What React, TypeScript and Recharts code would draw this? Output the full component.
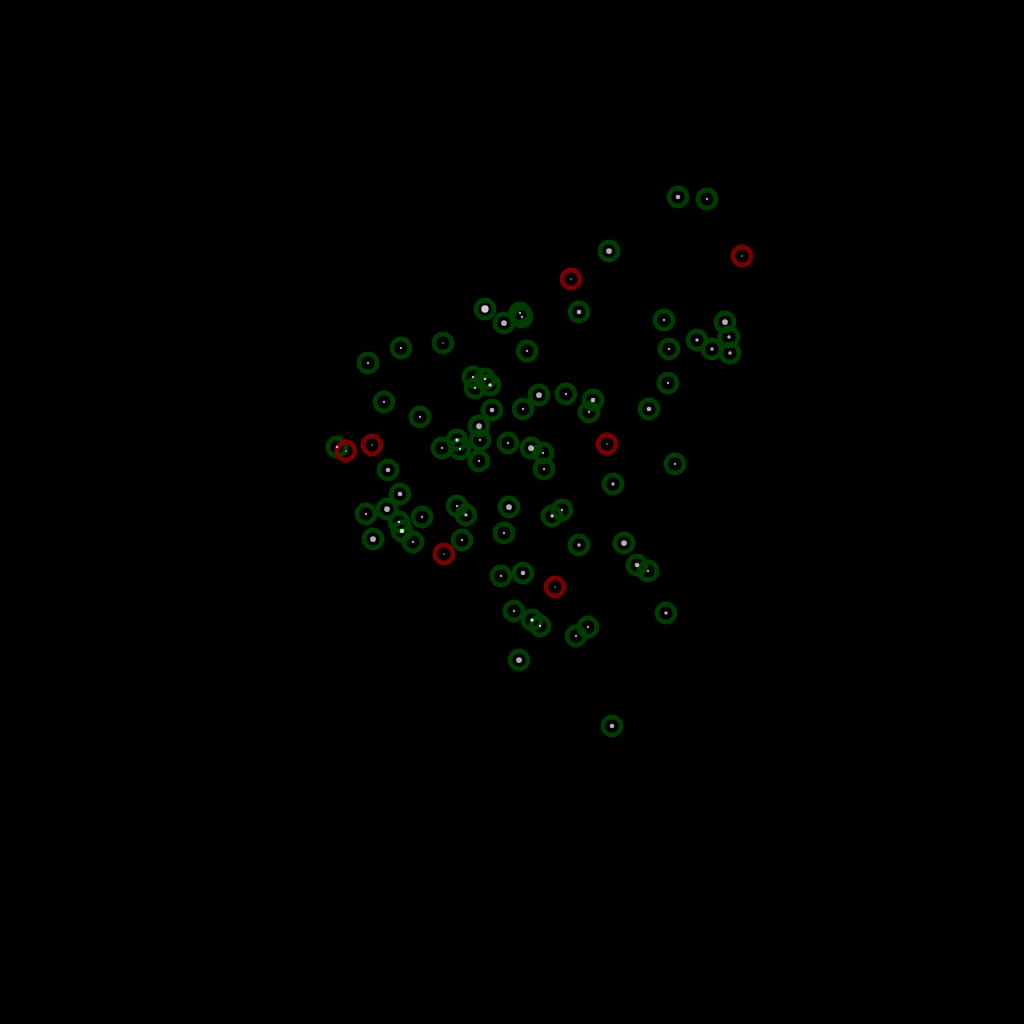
import { ScatterChart, Scatter, XAxis, YAxis } from 'recharts'

// green points: x, y, and the value shown by the centre dot
const greenX = [678, 707, 609, 485, 504, 520, 522, 579, 401, 443, 368, 527, 664, 725, 729, 697, 712, 730, 669, 384, 420, 473, 485, 475, 490, 492, 523, 479, 480, 457, 442, 460, 479, 508, 337, 388, 400, 366, 387, 399, 402, 422, 373, 413, 457, 466, 462, 509, 504, 539, 566, 593, 589, 668, 649, 531, 543, 544, 675, 613, 562, 552, 579, 624, 637, 648, 523, 501, 666, 514, 532, 540, 576, 588, 519, 612]
const greenY = [197, 199, 251, 309, 323, 313, 317, 312, 348, 343, 363, 351, 320, 322, 337, 340, 349, 353, 349, 402, 417, 377, 379, 388, 385, 410, 409, 426, 440, 440, 448, 449, 461, 443, 447, 470, 494, 514, 509, 522, 531, 517, 539, 542, 506, 515, 540, 507, 533, 395, 394, 400, 412, 383, 409, 448, 453, 469, 464, 484, 510, 516, 545, 543, 565, 571, 573, 576, 613, 611, 620, 626, 636, 627, 660, 726]
const greenZ = [2, 1, 2.5, 3.2, 2.5, 1, 1, 2, 1, 0.7, 1, 1, 1, 2.5, 1.5, 1.5, 1.5, 1.5, 1, 1, 1, 1, 1, 1, 1.5, 2, 1, 2.5, 1, 1.5, 1, 1, 1, 1, 1, 2, 2, 1, 2.5, 1, 2, 1, 2.5, 1, 1, 1.5, 1, 2.5, 1, 2.5, 1, 2, 1, 1, 2, 2.5, 1, 1, 1, 1.5, 1, 1.5, 1.5, 2.5, 2, 1, 2, 1, 1.5, 1, 1.5, 1, 1, 1, 2.5, 2]

// red (flagged) points
const redX = [571, 742, 346, 372, 607, 444, 555]
const redY = [279, 256, 451, 445, 444, 554, 587]
const redZ = [0.7, 0.7, 0.7, 0.7, 0.7, 0.7, 0.7]

const greenData = greenX.map((x, i) => ({ x, y: greenY[i], z: greenZ[i] }))
const redData = redX.map((x, i) => ({ x, y: redY[i], z: redZ[i] }))
const allData = [...greenData, ...redData]

// centre dots sit on top of the rings and add light to them
const Dot = (props: any) => {
  const { cx, cy, payload } = props
  const r = payload.z * 1.15
  const fill = payload.z >= 3 ? '#d0d0d0' : '#b0b0b0'
  return <circle cx={cx} cy={cy} r={r} fill={fill} style={{ mixBlendMode: 'plus-lighter' }} />
}

const ring = (color: string) => (props: any) => (
  <circle cx={props.cx} cy={props.cy} r={9} fill="none" stroke={color} strokeWidth={4.8} />
)

export default function App() {
  return (
    <div style={{ position: 'fixed', top: 0, left: 0, width: 1024, height: 1024, background: '#000' }}>
      <ScatterChart width={1024} height={1024} margin={{ top: 0, right: 0, bottom: 0, left: 0 }}>
        <XAxis type="number" dataKey="x" domain={[0, 1024]} hide />
        <YAxis type="number" dataKey="y" domain={[0, 1024]} reversed hide />
        <Scatter data={greenData} shape={ring('#003c00')} isAnimationActive={false} />
        <Scatter data={redData} shape={ring('#780000')} isAnimationActive={false} />
        <Scatter data={allData} shape={Dot} isAnimationActive={false} />
      </ScatterChart>
    </div>
  )
}
